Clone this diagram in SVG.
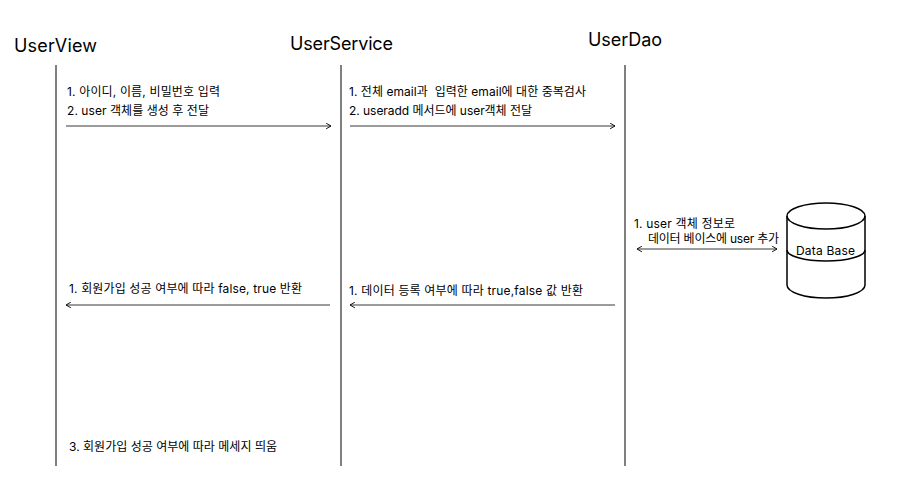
<svg xmlns="http://www.w3.org/2000/svg" width="897" height="500" viewBox="0 0 897 500">
<style>
text{font-family:Inter,"Noto Sans CJK KR",sans-serif;fill:#000}
.title{font-size:18px}
.lbl{font-size:12px}
.life{stroke:#000;stroke-width:1}
.msg{stroke:#7a7a7a;stroke-width:1.3;fill:none}
</style>
<defs>
<marker id="ah" viewBox="0 0 10 10" refX="9" refY="5" markerWidth="7" markerHeight="7" markerUnits="userSpaceOnUse" orient="auto-start-reverse">
<path d="M2,1 L9,5 L2,9" fill="none" stroke="#000" stroke-width="1.3"/>
</marker>
</defs>
<rect width="897" height="500" fill="#fff"/>
<g id="UserView">
<text class="title" x="14" y="52" textLength="83" lengthAdjust="spacing">UserView</text>
<line class="life" x1="56" y1="65" x2="56" y2="466"/>
</g>
<g id="UserService">
<text class="title" x="290" y="50" textLength="103" lengthAdjust="spacing">UserService</text>
<line class="life" x1="341" y1="65" x2="341" y2="466"/>
</g>
<g id="UserDao">
<text class="title" x="588" y="46" textLength="74" lengthAdjust="spacing">UserDao</text>
<line class="life" x1="625" y1="65" x2="625" y2="466"/>
</g>
<g id="DataBase">
<path d="M787,216 A39,13 0 0 1 865,216 L865,285 A39,13 0 0 1 787,285 Z" fill="#fff" stroke="#000" stroke-width="1.5"/>
<path d="M787,216 A39,13 0 0 0 865,216" fill="none" stroke="#000" stroke-width="1.5"/>
<path d="M787,250 A39,11 0 0 0 865,250" fill="none" stroke="#000" stroke-width="1.5"/>
<text class="lbl" x="796" y="255" textLength="59" lengthAdjust="spacing">Data Base</text>
</g>
<g id="connectors">
<line class="msg" x1="66" y1="126" x2="331" y2="126" marker-end="url(#ah)"/>
<line class="msg" x1="350" y1="126" x2="615" y2="126" marker-end="url(#ah)"/>
<line class="msg" x1="637" y1="249" x2="777" y2="249" marker-start="url(#ah)" marker-end="url(#ah)"/>
<line class="msg" x1="330" y1="305" x2="66" y2="305" marker-end="url(#ah)"/>
<line class="msg" x1="615" y1="305" x2="350" y2="305" marker-end="url(#ah)"/>
</g>
<g id="labels">
<text class="lbl" x="67" y="96" textLength="153" lengthAdjust="spacing">1. 아이디, 이름, 비밀번호 입력</text>
<text class="lbl" x="67" y="115" textLength="142" lengthAdjust="spacing">2. user 객체를 생성 후 전달</text>
<text class="lbl" x="349" y="96" textLength="237" lengthAdjust="spacing" style="white-space:pre">1. 전체 email과  입력한 email에 대한 중복검사</text>
<text class="lbl" x="349" y="115" textLength="183" lengthAdjust="spacing">2. useradd 메서드에 user객체 전달</text>
<text class="lbl" x="634" y="228" textLength="101" lengthAdjust="spacing">1. user 객체 정보로</text>
<text class="lbl" x="648" y="243" textLength="131" lengthAdjust="spacing">데이터 베이스에 user 추가</text>
<text class="lbl" x="69" y="293" textLength="233" lengthAdjust="spacing">1. 회원가입 성공 여부에 따라 false, true 반환</text>
<text class="lbl" x="349" y="295" textLength="234" lengthAdjust="spacing">1. 데이터 등록 여부에 따라 true,false 값 반환</text>
<text class="lbl" x="69" y="451" textLength="208" lengthAdjust="spacing">3. 회원가입 성공 여부에 따라 메세지 띄움</text>
</g>
</svg>
